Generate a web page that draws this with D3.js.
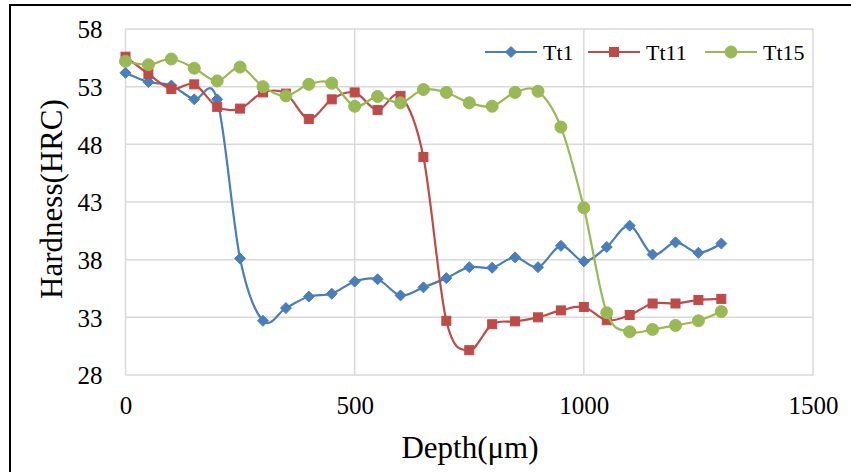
<!DOCTYPE html>
<html><head><meta charset="utf-8">
<script src="https://cdn.jsdelivr.net/npm/d3@7"></script>
<style>body{margin:0;background:#fff}svg{display:block}</style>
</head><body>
<svg id="c" width="851" height="472" font-family="Liberation Serif"></svg>
<script>
const depth = [0,50,100,150,200,250,300,350,400,450,500,550,600,650,700,750,800,850,900,950,1000,1050,1100,1150,1200,1250,1300];
const tt1 = [54.2,53.4,53.1,51.9,51.9,38.1,32.7,33.8,34.8,35.05,36.1,36.3,34.9,35.6,36.4,37.35,37.3,38.2,37.35,39.2,37.85,39.1,40.95,38.45,39.5,38.6,39.4];
const tt11 = [55.6,54.1,52.8,53.2,51.25,51.1,52.5,52.4,50.2,51.9,52.5,50.97,52.2,46.9,32.7,30.15,32.4,32.65,33.0,33.6,33.9,32.75,33.2,34.2,34.2,34.5,34.6];
const tt15 = [55.2,54.9,55.4,54.6,53.5,54.7,53.0,52.2,53.2,53.3,51.3,52.15,51.6,52.75,52.5,51.6,51.3,52.5,52.6,49.5,42.5,33.4,31.75,31.95,32.3,32.7,33.5];
const seriesNames = ["Tt1","Tt11","Tt15"];
const xTicks = [0,500,1000,1500];
const yTicks = [28,33,38,43,48,53,58];
const colors = ["#4A7EBB","#BE4B48","#98B954"];

const FONT = "'Liberation Serif', 'Times New Roman', serif";
const svg = d3.select("#c");
const L=125.5, R=813, T=29, B=375;
const x = d3.scaleLinear().domain([0,1500]).range([L,R]);
const y = d3.scaleLinear().domain([28,58]).range([B,T]);

// outer frame
svg.append("rect").attr("x",10).attr("y",5).attr("width",860).attr("height",480).attr("fill","none").attr("stroke","#000").attr("stroke-width",2);

// grid
const g = svg.append("g");
g.selectAll(".hg").data(yTicks).join("line").attr("x1",L).attr("x2",R).attr("y1",d=>y(d)).attr("y2",d=>y(d)).attr("stroke","#d9d9d9").attr("stroke-width",1.5);
g.selectAll(".vg").data(xTicks).join("line").attr("y1",T).attr("y2",B).attr("x1",d=>x(d)).attr("x2",d=>x(d)).attr("stroke","#d9d9d9").attr("stroke-width",1.5);

// axes labels via d3 axes
const yAxis = svg.append("g").attr("transform",`translate(${L},0)`).call(d3.axisLeft(y).tickValues(yTicks).tickFormat(d3.format("d")).tickSize(0).tickPadding(23));
yAxis.attr("font-family",FONT).attr("font-size",25);
yAxis.select(".domain").remove();
yAxis.selectAll("text").attr("fill","#000").attr("dy","0.35em");
const xAxis = svg.append("g").attr("transform",`translate(0,${B})`).call(d3.axisBottom(x).tickValues(xTicks).tickFormat(d3.format("d")).tickSize(0).tickPadding(21));
xAxis.attr("font-family",FONT).attr("font-size",25);
xAxis.select(".domain").remove();
xAxis.selectAll("text").attr("fill","#000");

// titles
svg.append("text").attr("transform","translate(62,199) rotate(-90)").attr("text-anchor","middle").attr("font-family",FONT).attr("font-size",31).text("Hardness(HRC)");
svg.append("text").attr("x",470).attr("y",458).attr("text-anchor","middle").attr("font-family",FONT).attr("font-size",31).text("Depth(μm)");

const datasets = [tt1,tt11,tt15];
const line = d3.line().x((d,i)=>x(depth[i])).y(d=>y(d)).curve(d3.curveCatmullRom.alpha(0));

function marker(sel, k, cx, cy){
  if(k===0){
    sel.append("path").attr("d",`M${cx},${cy-5.5}L${cx+5.5},${cy}L${cx},${cy+5.5}L${cx-5.5},${cy}Z`).attr("fill",colors[0]).attr("stroke",colors[0]);
  } else if(k===1){
    sel.append("rect").attr("x",cx-4.5).attr("y",cy-4.5).attr("width",9).attr("height",9).attr("fill",colors[1]).attr("stroke",colors[1]);
  } else {
    sel.append("circle").attr("cx",cx).attr("cy",cy).attr("r",6).attr("fill",colors[2]).attr("stroke",colors[2]);
  }
}

datasets.forEach((data,k)=>{
  const gs = svg.append("g");
  gs.append("path").datum(data).attr("d",line).attr("fill","none").attr("stroke",colors[k]).attr("stroke-width",2.2);
  data.forEach((v,i)=>marker(gs,k,x(depth[i]),y(v)));
});

// legend
const legX = [485,588,705];
const legY = 52;
seriesNames.forEach((n,k)=>{
  const lg = svg.append("g");
  lg.append("line").attr("x1",legX[k]).attr("x2",legX[k]+52).attr("y1",legY).attr("y2",legY).attr("stroke",colors[k]).attr("stroke-width",2.2);
  marker(lg,k,legX[k]+26,legY);
  lg.append("text").attr("x",legX[k]+58).attr("y",legY+8).attr("font-family",FONT).attr("font-size",22).text(n);
});
</script>
</body></html>
